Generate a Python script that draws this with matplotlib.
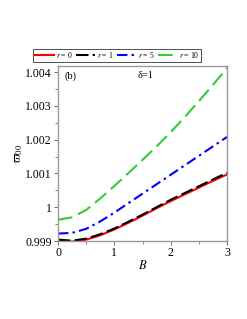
import matplotlib
matplotlib.use("Agg")
import matplotlib.pyplot as plt
from matplotlib.ticker import MultipleLocator, FuncFormatter

B = [0.0, 0.25, 0.5, 0.75, 1.0, 1.25, 1.5, 1.75, 2.0, 2.25, 2.5, 2.75, 3.0]
w_r0 = [0.99900, 0.99898, 0.99904, 0.99917, 0.99934, 0.99954, 0.99975,
        0.99997, 1.00018, 1.00038, 1.00058, 1.00078, 1.00097]
w_r1 = [0.99904, 0.99901, 0.99907, 0.99920, 0.99937, 0.99957, 0.99978,
        1.00000, 1.00022, 1.00042, 1.00062, 1.00082, 1.00102]
w_r5 = [0.99922, 0.99924, 0.99936, 0.99958, 0.99984, 1.00012, 1.00040,
        1.00068, 1.00096, 1.00124, 1.00152, 1.00180, 1.00208]
w_r10 = [0.99963, 0.99970, 0.99992, 1.00026, 1.00063, 1.00101, 1.00140,
         1.00180, 1.00222, 1.00267, 1.00314, 1.00362, 1.00412]

plt.rcParams["font.family"] = ["Liberation Serif", "DejaVu Serif"]
plt.rcParams["mathtext.fontset"] = "stix"

fig = plt.figure(figsize=(2.47, 3.19), dpi=100)
ax = fig.add_axes([58 / 247, 1 - 241 / 319, 169 / 247, 175 / 319])

ax.plot(B, w_r0, color="#ff0000", lw=1.5, label=r"$r$ = 0")
ax.plot(B, w_r1, color="black", lw=1.5, dashes=(6, 2), label=r"$r$ = 1")
ax.plot(B, w_r5, color="#0000ff", lw=1.5, dashes=(5, 2, 1.2, 2), label=r"$r$ = 5")
ax.plot(B, w_r10, color="#33cc33", lw=1.5, dashes=(7, 3), label=r"$r$ = 10")

ax.set_xlim(0, 3)
ax.set_ylim(0.999, 1.00418)
ax.xaxis.set_major_locator(MultipleLocator(1))
ax.xaxis.set_minor_locator(MultipleLocator(0.5))
ax.yaxis.set_major_locator(MultipleLocator(0.001))
ax.yaxis.set_minor_locator(MultipleLocator(0.0005))
ax.yaxis.set_major_formatter(FuncFormatter(lambda v, p: f"{v:.3f}".rstrip("0").rstrip(".")))
ax.tick_params(labelsize=8.5, length=3, width=0.6, color="#555555", direction="out", pad=1.5)
ax.tick_params(which="minor", length=2, width=0.5, color="#555555")
for s in ax.spines.values():
    s.set_color("#999999")
    s.set_linewidth(1.0)

ax.set_xlabel(r"$B$", fontsize=9, labelpad=0)
ax.set_ylabel(r"$\varpi_{00}$", fontsize=9, labelpad=0)

ax.text(0.04, 0.97, "(b)", transform=ax.transAxes, ha="left", va="top", fontsize=7.5)
ax.text(0.52, 0.97, "δ=1", transform=ax.transAxes, ha="center", va="top", fontsize=7.5)

leg = ax.legend(loc="lower center", bbox_to_anchor=(0.35, 1.025), ncol=4, fontsize=5.5,
                frameon=True, fancybox=False, handlelength=2.5, handletextpad=0.3,
                columnspacing=0.4, borderpad=0.2, borderaxespad=0)
leg.get_frame().set_edgecolor("black")
leg.get_frame().set_linewidth(0.6)

fig.savefig("out.png", dpi=100)
